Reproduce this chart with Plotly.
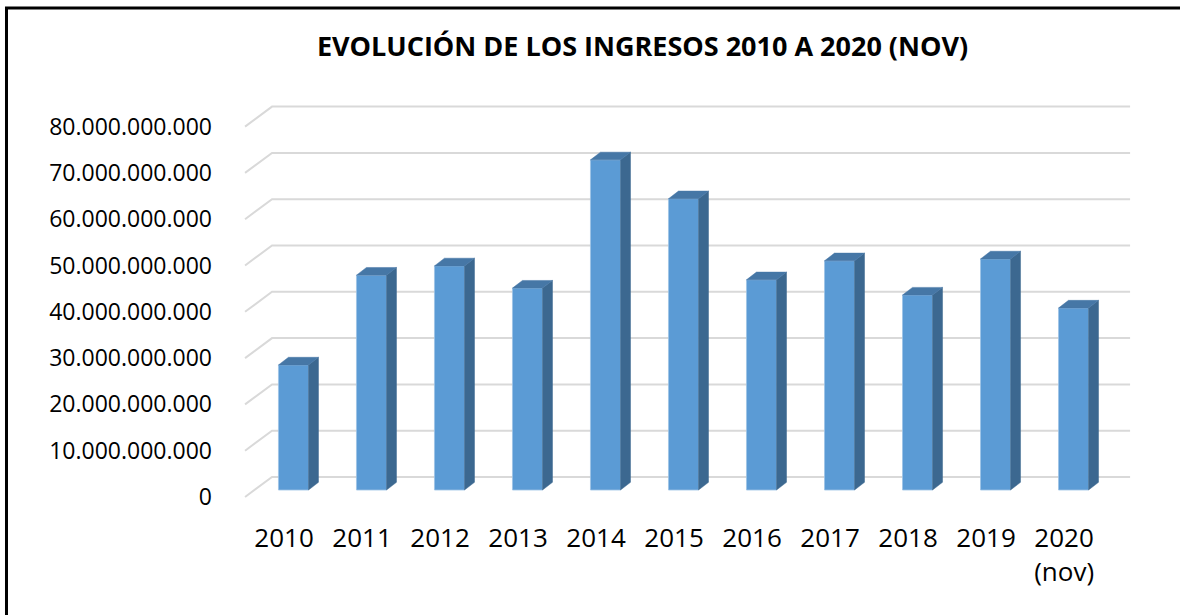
import plotly.graph_objects as go

# ---- data ----
years = ["2010", "2011", "2012", "2013", "2014", "2015", "2016", "2017", "2018", "2019", "2020<br>(nov)"]
ingresos = [27.0e9, 46.4e9, 48.4e9, 43.6e9, 71.3e9, 62.9e9, 45.4e9, 49.5e9, 42.1e9, 49.9e9, 39.3e9]
y_ticks = [0, 10e9, 20e9, 30e9, 40e9, 50e9, 60e9, 70e9, 80e9]
y_tick_labels = ["0", "10.000.000.000", "20.000.000.000", "30.000.000.000", "40.000.000.000",
                 "50.000.000.000", "60.000.000.000", "70.000.000.000", "80.000.000.000"]
title_text = "EVOLUCIÓN DE LOS INGRESOS 2010 A 2020 (NOV)"

# ---- 3D look (oblique projection) in data units ----
BAR_W = 0.385          # bar width (category units)
BAR_DX = 0.128         # bar depth, x component
BAR_DY = 1.66e9        # bar depth, y component
FRONT_DX, FRONT_DY = -0.121, -1.51e9   # front floor edge relative to bar plane
BACK_DX, BACK_DY = 0.225, 2.81e9       # back wall relative to bar plane

FONT = "Open Sans"
FRONT_C = "#5B9BD5"
SIDE_C = "#3C6890"
TOP_C = "#4677A6"
GRID_C = "#D9D9D9"

xs = list(range(len(years)))
n = len(years)

fig = go.Figure()

# front faces
fig.add_trace(go.Bar(x=xs, y=ingresos, width=BAR_W, marker_color=FRONT_C,
                     marker_line=dict(color="#9DC3E6", width=0.8), hoverinfo="skip"))

# side faces
sx, sy = [], []
for x, v in zip(xs, ingresos):
    r = x + BAR_W / 2
    sx += [r, r + BAR_DX, r + BAR_DX, r, r, None]
    sy += [0, BAR_DY, v + BAR_DY, v, 0, None]
fig.add_trace(go.Scatter(x=sx, y=sy, mode="lines", fill="toself", fillcolor=SIDE_C,
                         line=dict(color=SIDE_C, width=0.5), hoverinfo="skip"))

# top faces
tx, ty = [], []
for x, v in zip(xs, ingresos):
    l, r = x - BAR_W / 2, x + BAR_W / 2
    tx += [l, l + BAR_DX, r + BAR_DX, r, l, None]
    ty += [v, v + BAR_DY, v + BAR_DY, v, v, None]
fig.add_trace(go.Scatter(x=tx, y=ty, mode="lines", fill="toself", fillcolor=TOP_C,
                         line=dict(color=TOP_C, width=0.5), hoverinfo="skip"))

# gridlines: front floor edge -> back wall -> across back wall
shapes = []
x_left = -0.5
x_right = n - 0.5
for v in y_ticks:
    path = (f"M {x_left + FRONT_DX},{v + FRONT_DY} "
            f"L {x_left + BACK_DX},{v + BACK_DY} "
            f"L {x_right + BACK_DX},{v + BACK_DY}")
    shapes.append(dict(type="path", path=path, xref="x", yref="y", layer="below",
                       line=dict(color=GRID_C, width=2)))

# outer border of the chart area (extends past the right and bottom edges)
shapes.append(dict(type="rect", xref="paper", yref="paper",
                   x0=-0.2224, x1=1.1, y0=-0.4, y1=1.1907,
                   line=dict(color="black", width=3), layer="above"))

fig.update_layout(
    width=1180, height=615,
    margin=dict(l=220, r=0, t=90, b=95),
    paper_bgcolor="white", plot_bgcolor="white",
    showlegend=False,
    shapes=shapes,
    title=dict(text=f"<b>{title_text}</b>", x=0.5445, xanchor="center",
               y=1 - 47 / 615, yanchor="middle", yref="container",
               font=dict(family=FONT, size=27, color="black")),
    xaxis=dict(range=[-0.942, 11.365], showgrid=False, zeroline=False, showline=False,
               tickmode="array", tickvals=[x + FRONT_DX for x in xs], ticktext=years,
               tickfont=dict(family=FONT, size=26, color="black"), ticks=""),
    yaxis=dict(range=[-6.48e9, 86.39e9], showgrid=False, zeroline=False, showline=False,
               tickmode="array", tickvals=[v + FRONT_DY for v in y_ticks], ticktext=y_tick_labels,
               tickfont=dict(family=FONT, size=23, color="black"), ticks="",
               ticklabelstandoff=7),
)

fig.write_html("out.html", config={"displayModeBar": False},
               post_script="document.body.style.margin='0';")
